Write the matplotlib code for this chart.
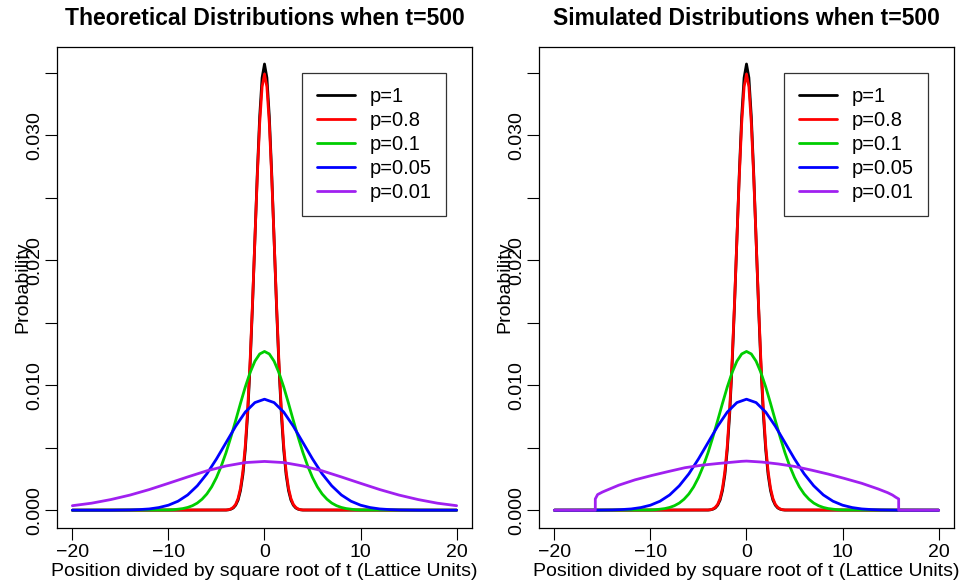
import matplotlib
matplotlib.use("Agg")
import matplotlib.pyplot as plt

plt.rcParams['font.family'] = ['Liberation Sans', 'DejaVu Sans']

# ---------------- data ----------------
labels = ["p=1", "p=0.8", "p=0.1", "p=0.05", "p=0.01"]
colors = ["#000000", "#FF0000", "#00CD00", "#0000FF", "#A020F0"]

# narrow peaks (p=1, p=0.8): x grid
x_narrow = [-20, -4.0, -3.75, -3.5, -3.25, -3.0, -2.75, -2.5, -2.25, -2.0, -1.75, -1.5, -1.25,
            -1.0, -0.75, -0.5, -0.25, 0.0, 0.25, 0.5, 0.75, 1.0, 1.25, 1.5, 1.75, 2.0,
            2.25, 2.5, 2.75, 3.0, 3.25, 3.5, 3.75, 4.0, 20]
y_p1 = [0.0, 0.00001, 0.00003, 0.00008, 0.00018, 0.00040, 0.00081, 0.00157, 0.00284, 0.00483,
        0.00772, 0.01159, 0.01634, 0.02165, 0.02695, 0.03151, 0.03460, 0.03570, 0.03460,
        0.03151, 0.02695, 0.02165, 0.01634, 0.01159, 0.00772, 0.00483, 0.00284, 0.00157,
        0.00081, 0.00040, 0.00018, 0.00008, 0.00003, 0.00001, 0.0]
y_p08 = [0.0, 0.00002, 0.00004, 0.00010, 0.00023, 0.00047, 0.00094, 0.00176, 0.00311, 0.00517,
         0.00809, 0.01192, 0.01655, 0.02165, 0.02668, 0.03097, 0.03387, 0.03490, 0.03387,
         0.03097, 0.02668, 0.02165, 0.01655, 0.01192, 0.00809, 0.00517, 0.00311, 0.00176,
         0.00094, 0.00047, 0.00023, 0.00010, 0.00004, 0.00002, 0.0]

x_p01 = [-20, -10.0, -9.5, -9.0, -8.5, -8.0, -7.5, -7.0, -6.5, -6.0, -5.5, -5.0, -4.5, -4.0,
         -3.5, -3.0, -2.5, -2.0, -1.5, -1.0, -0.5, 0.0, 0.5, 1.0, 1.5, 2.0, 2.5, 3.0, 3.5,
         4.0, 4.5, 5.0, 5.5, 6.0, 6.5, 7.0, 7.5, 8.0, 8.5, 9.0, 9.5, 10.0, 20]
y_p01 = [0.0, 0.00002, 0.00004, 0.00008, 0.00013, 0.00022, 0.00036, 0.00057, 0.00088, 0.00130,
         0.00187, 0.00261, 0.00353, 0.00461, 0.00585, 0.00718, 0.00855, 0.00986, 0.01101,
         0.01192, 0.01250, 0.01270, 0.01250, 0.01192, 0.01101, 0.00986, 0.00855, 0.00718,
         0.00585, 0.00461, 0.00353, 0.00261, 0.00187, 0.00130, 0.00088, 0.00057, 0.00036,
         0.00022, 0.00013, 0.00008, 0.00004, 0.00002, 0.0]

x_p005 = [-20, -16, -15, -14, -13, -12, -11, -10, -9, -8, -7, -6, -5, -4, -3, -2, -1, 0,
          1, 2, 3, 4, 5, 6, 7, 8, 9, 10, 11, 12, 13, 14, 15, 16, 20]
y_p005 = [0.0, 0.0, 0.00001, 0.00002, 0.00005, 0.00010, 0.00021, 0.00040, 0.00072, 0.00122,
          0.00195, 0.00291, 0.00410, 0.00541, 0.00672, 0.00785, 0.00861, 0.00888, 0.00861,
          0.00785, 0.00672, 0.00541, 0.00410, 0.00291, 0.00195, 0.00122, 0.00072, 0.00040,
          0.00021, 0.00010, 0.00005, 0.00002, 0.00001, 0.0, 0.0]

x_p0001 = [-20, -18, -16, -14, -12, -10, -8, -6, -4, -2, 0, 2, 4, 6, 8, 10, 12, 14, 16, 18, 20]
y_p0001 = [0.00036, 0.00056, 0.00085, 0.00121, 0.00165, 0.00215, 0.00266, 0.00315, 0.00354,
           0.00381, 0.00390, 0.00381, 0.00354, 0.00315, 0.00266, 0.00215, 0.00165, 0.00121,
           0.00085, 0.00056, 0.00036]

# simulated p=0.01 (truncated, flat-topped)
x_sim_p0001 = [-20, -15.74, -15.74, -15.5, -15.0, -14.7, -13.3, -11.6, -9.85, -8.1, -6.4,
               -4.65, -2.9, -0.5, 0.0, 1.6, 3.3, 5.0, 6.8, 8.5, 10.2, 12.0, 13.7, 14.7,
               15.2, 15.55, 15.84, 15.84, 20]
y_sim_p0001 = [0.0, 0.0, 0.00090, 0.00125, 0.00145, 0.00155, 0.00200, 0.00243, 0.00278,
               0.00310, 0.00340, 0.00360, 0.00374, 0.00391, 0.00393, 0.00385, 0.00370,
               0.00350, 0.00320, 0.00289, 0.00254, 0.00215, 0.00170, 0.00140, 0.00121,
               0.00103, 0.00090, 0.0, 0.0]

theory = [(x_narrow, y_p1), (x_narrow, y_p08), (x_p01, y_p01), (x_p005, y_p005), (x_p0001, y_p0001)]
simulated = [(x_narrow, y_p1), (x_narrow, y_p08), (x_p01, y_p01), (x_p005, y_p005),
             (x_sim_p0001, y_sim_p0001)]

titles = ["Theoretical Distributions when t=500", "Simulated Distributions when t=500"]
xticks = [-20, -10, 0, 10, 20]
yticks = [0.0, 0.005, 0.010, 0.015, 0.020, 0.025, 0.030, 0.035]
ytick_labels = ["0.000", "", "0.010", "", "0.020", "", "0.030", ""]

# ---------------- figure ----------------
W, H = 962, 587
fig = plt.figure(figsize=(W / 100, H / 100), dpi=100)

panels = [(57, 47, 472, 528), (539, 47, 954, 528)]
FS = 14

for (l, t, r, b), title, data in zip(panels, titles, [theory, simulated]):
    ax = fig.add_axes([l / W, (H - b) / H, (r - l) / W, (b - t) / H])
    for (xs, ys), c, lab in zip(data, colors, labels):
        ax.plot(xs, ys, color=c, lw=2.0, label=lab, solid_capstyle='round')
    ax.set_xlim(-21.6, 21.6)
    ax.set_ylim(-0.001425, 0.03706)
    ax.set_xticks(xticks)
    ax.set_xticklabels([str(v).replace('-', '\u2212') for v in xticks])
    ax.set_yticks(yticks)
    ax.set_yticklabels(ytick_labels, rotation=90, va='center')
    ax.tick_params(direction='out', length=8.5, width=0.8, labelsize=FS, colors='black')
    ax.tick_params(axis='y', pad=1.5)
    ax.tick_params(axis='x', pad=3.0)
    for s in ax.spines.values():
        s.set_linewidth(0.9)
        s.set_color('black')
    ax.set_title(title, fontsize=16.5, fontweight='bold', pad=16)
    ax.set_xlabel("Position divided by square root of t (Lattice Units)", fontsize=FS, labelpad=1.5)
    ax.set_ylabel("Probability", fontsize=FS)
    ax.yaxis.set_label_coords(-0.062, 0.5)
    leg = ax.legend(loc='upper right', bbox_to_anchor=(0.9373, 0.946), borderaxespad=0,
                    fontsize=14.5, frameon=True, fancybox=False, edgecolor='black',
                    handlelength=1.9, handletextpad=0.75, labelspacing=0.25, borderpad=0.7)
    leg.get_frame().set_linewidth(0.9)
    for line in leg.get_lines():
        line.set_linewidth(2.0)

fig.savefig("out.png", dpi=100)
